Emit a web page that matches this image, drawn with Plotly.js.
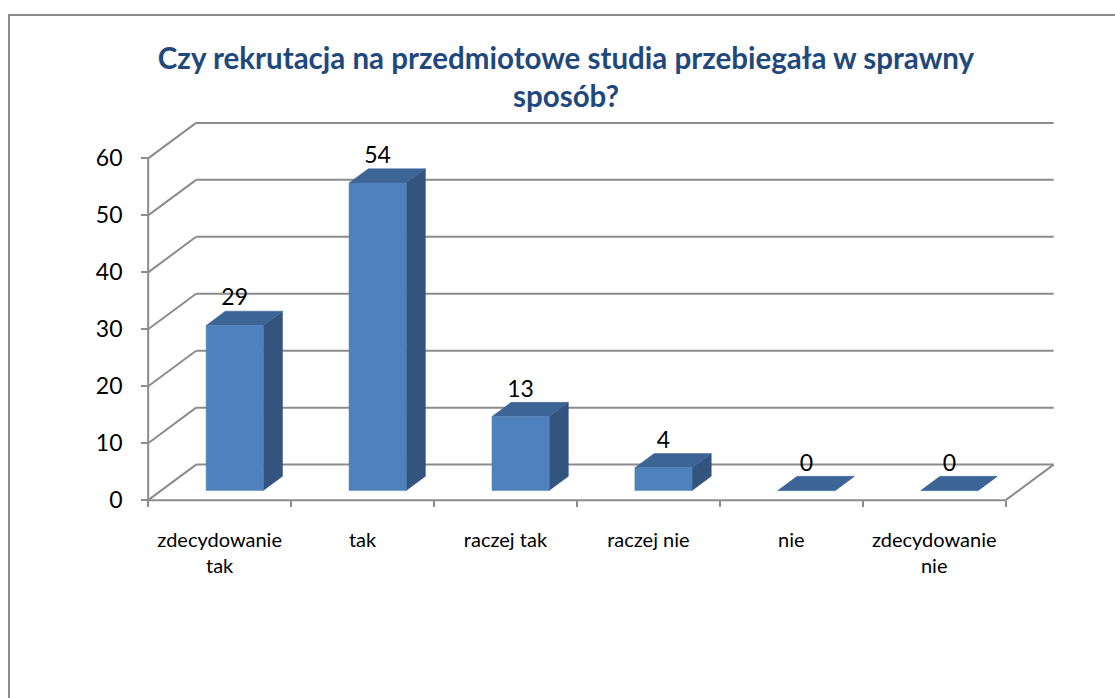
<!DOCTYPE html>
<html>
<head>
<meta charset="utf-8">
<script src="https://cdn.plot.ly/plotly-3.0.1.min.js"></script>
<style>
  html, body { margin: 0; padding: 0; background: #fff; overflow: hidden; }
  #wrap { position: relative; width: 1115px; height: 698px; }
  #chart { width: 1115px; height: 698px; }
  #frame { position: absolute; left: 8px; top: 14px; width: 2000px; height: 2000px;
           border-left: 2px solid #8c8c8c; border-top: 2px solid #8c8c8c; pointer-events: none; }
</style>
</head>
<body>
<div id="wrap"><div id="chart"></div><div id="frame"></div></div>
<script>
// ---- data ----
const categories = ['zdecydowanie<br>tak', 'tak', 'raczej tak', 'raczej nie', 'nie', 'zdecydowanie<br>nie'];
const values = [29, 54, 13, 4, 0, 0];
const yTicks = [0, 10, 20, 30, 40, 50, 60];

// ---- 3D projection settings ----
const PXX = 143, PXY = 5.69;          // px per category / per value unit
const DX = 48 / PXX, DY = 35.5 / PXY; // full depth offset in data units
const D0 = 0.27, D1 = 0.67;           // bar depth span (fraction of depth)
const BW = 0.4;                        // bar width (category units)
const SHIFT = 0.015;
const nCat = categories.length;
const yMax = yTicks[yTicks.length - 1];

function P(c, v, d) { return [c + d * DX, v + d * DY]; }

// structural lines (walls, floor, axis)
const lx = [], ly = [];
function seg(a, b) { lx.push(a[0], b[0], null); ly.push(a[1], b[1], null); }
yTicks.forEach(t => {
  seg(P(0, t, 1), P(nCat, t, 1));   // back wall gridline
  seg(P(0, t, 0), P(0, t, 1));      // side wall gridline
});
seg(P(0, 0, 0), P(nCat, 0, 0));     // front floor edge
seg(P(nCat, 0, 0), P(nCat, 0, 1));  // right floor edge
seg(P(0, 0, 0), P(0, yMax, 0));     // value axis line

// bar faces
const fx = [], fy = [], sx = [], sy = [], tx = [], ty = [];
const labX = [], labY = [], labT = [];
function poly(ax, ay, pts) { pts.forEach(p => { ax.push(p[0]); ay.push(p[1]); }); ax.push(pts[0][0], null); ay.push(pts[0][1], null); }
values.forEach((v, i) => {
  const c = i + 0.5 + SHIFT, l = c - BW / 2, r = c + BW / 2;
  poly(fx, fy, [P(l, 0, D0), P(r, 0, D0), P(r, v, D0), P(l, v, D0)]);
  poly(sx, sy, [P(r, 0, D0), P(r, 0, D1), P(r, v, D1), P(r, v, D0)]);
  poly(tx, ty, [P(l, v, D0), P(r, v, D0), P(r, v, D1), P(l, v, D1)]);
  const lp = P(c, v, D1);
  labX.push(c + D0 * DX); labY.push(lp[1]); labT.push(String(v));
});

const gray = '#8c8c8c';
const traces = [
  { x: lx, y: ly, mode: 'lines', line: { color: gray, width: 2 }, hoverinfo: 'skip', showlegend: false },
  { x: sx, y: sy, mode: 'lines', fill: 'toself', fillcolor: '#32547e', line: { color: '#32547e', width: 0.5 }, hoverinfo: 'skip', showlegend: false },
  { x: tx, y: ty, mode: 'lines', fill: 'toself', fillcolor: '#3c6596', line: { color: '#3c6596', width: 0.5 }, hoverinfo: 'skip', showlegend: false },
  { x: fx, y: fy, mode: 'lines', fill: 'toself', fillcolor: '#4f81bd', line: { color: '#4f81bd', width: 0.5 }, hoverinfo: 'skip', showlegend: false },
  { x: labX, y: labY, mode: 'text', text: labT, textposition: 'top center', cliponaxis: false,
    textfont: { family: 'Lato, sans-serif', size: 23, color: '#000' }, hoverinfo: 'skip', showlegend: false }
];

const xMin = -0.05, xMaxR = 6.45, yMinR = -0.5, yMaxR = 68.5;
const L = 148 + xMin * PXX, W = (xMaxR - xMin) * PXX;
const B = 698 - (500 - yMinR * PXY), H = (yMaxR - yMinR) * PXY;

const layout = {
  width: 1115, height: 698,
  paper_bgcolor: '#fff', plot_bgcolor: 'rgba(0,0,0,0)',
  margin: { l: L, r: 1115 - L - W, b: B, t: 698 - B - H, autoexpand: false },
  title: {
    text: 'Czy rekrutacja na przedmiotowe studia przebiegała w sprawny<br>sposób?',
    x: 566 / 1115, xref: 'container', xanchor: 'center',
    y: 1 - 69 / 698, yref: 'container', yanchor: 'top',
    font: { family: 'Lato, sans-serif', size: 29.5, color: '#1f497d', weight: 'bold' }
  },
  xaxis: {
    range: [xMin, xMaxR], anchor: 'free', position: (0 - yMinR) / (yMaxR - yMinR),
    tickmode: 'array', tickvals: categories.map((_, i) => i + 0.5), ticktext: categories,
    ticks: '', showgrid: false, zeroline: false, showline: false,
    ticklabelstandoff: 26,
    tickfont: { family: 'Lato, sans-serif', size: 20, color: '#000' },
    minor: { tickmode: 'array', tickvals: categories.map((_, i) => i).concat([nCat]), ticks: 'outside', ticklen: 6, tickwidth: 2, tickcolor: gray, showgrid: false },
    fixedrange: true
  },
  yaxis: {
    range: [yMinR, yMaxR], anchor: 'free', position: (0 - xMin) / (xMaxR - xMin),
    tickmode: 'array', tickvals: yTicks, ticktext: yTicks.map(String),
    ticks: 'outside', ticklen: 7, tickwidth: 2, tickcolor: gray,
    showgrid: false, zeroline: false, showline: false,
    ticklabelstandoff: 14,
    tickfont: { family: 'Lato, sans-serif', size: 23, color: '#000' },
    fixedrange: true
  },
  showlegend: false
};

Plotly.newPlot('chart', traces, layout, { displayModeBar: false, staticPlot: true });
</script>
</body>
</html>
